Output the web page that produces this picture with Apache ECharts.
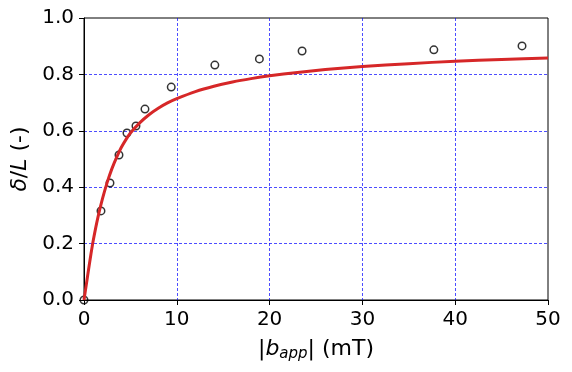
<!DOCTYPE html>
<html>
<head>
<meta charset="utf-8">
<script src="https://cdn.jsdelivr.net/npm/echarts@6/dist/echarts.min.js"></script>
<style>
html,body{margin:0;padding:0;background:#fff;}
#chart{width:572px;height:372px;}
</style>
</head>
<body>
<div id="chart"></div>
<script>
// measured points
const pointX = [0, 1.83, 2.8, 3.77, 4.63, 5.6, 6.57, 9.4, 14.1, 18.9, 23.5, 37.7, 47.2];
const pointY = [0, 0.316, 0.415, 0.514, 0.592, 0.617, 0.677, 0.755, 0.833, 0.855, 0.883, 0.887, 0.901];
// fitted curve
const curveX = [0, 0.25, 0.5, 0.75, 1, 1.5, 2, 2.5, 3, 3.5, 4, 4.5, 5, 6, 7, 8, 9, 10, 12, 14, 16, 18, 20, 23, 26, 30, 35, 40, 45, 50];
const curveY = [0, 0.055, 0.11, 0.163, 0.212, 0.293, 0.36, 0.417, 0.465, 0.505, 0.54, 0.568, 0.592, 0.628, 0.657, 0.68, 0.699, 0.714, 0.739, 0.758, 0.773, 0.785, 0.795, 0.807, 0.817, 0.828, 0.838, 0.847, 0.853, 0.858];
const xTicks = [0, 10, 20, 30, 40, 50];
const yTicks = [0.0, 0.2, 0.4, 0.6, 0.8, 1.0];

const FONT = 'DejaVu Sans';
const chart = echarts.init(document.getElementById('chart'), null, {renderer: 'canvas'});
const gridStyle = {show: true, showMinLine: false, showMaxLine: false, lineStyle: {color: '#0000ff', width: 0.7, type: [3, 2]}};
chart.setOption({
  animation: false,
  backgroundColor: '#fff',
  grid: {left: 84, right: 24, top: 18, bottom: 72, show: true, borderColor: '#000', borderWidth: 1, backgroundColor: 'transparent'},
  xAxis: {
    type: 'value', min: xTicks[0], max: xTicks[xTicks.length - 1], interval: 10,
    axisLine: {show: true, lineStyle: {color: '#000', width: 1}},
    axisTick: {show: true, length: 5, lineStyle: {color: '#000'}},
    axisLabel: {color: '#000', fontFamily: FONT, fontSize: 20, margin: 10},
    splitLine: gridStyle,
    name: '{t||}{i|b}{s|app}{t|| (mT)}',
    nameLocation: 'middle', nameGap: 36,
    nameTextStyle: {
      color: '#000', fontFamily: FONT, fontSize: 22,
      rich: {
        t: {fontFamily: FONT, fontSize: 22, color: '#000'},
        i: {fontFamily: FONT, fontSize: 22, fontStyle: 'italic', color: '#000'},
        s: {fontFamily: FONT, fontSize: 15, fontStyle: 'italic', color: '#000', padding: [11, 0, 0, 0]}
      }
    }
  },
  yAxis: {
    type: 'value', min: yTicks[0], max: yTicks[yTicks.length - 1], interval: 0.2,
    axisLine: {show: true, lineStyle: {color: '#000', width: 1}},
    axisTick: {show: true, length: 5, lineStyle: {color: '#000'}},
    axisLabel: {color: '#000', fontFamily: FONT, fontSize: 20, margin: 10, formatter: v => v.toFixed(1)},
    splitLine: gridStyle,
    name: '{i|δ}{t|/}{i|L}{t| (-)}',
    nameLocation: 'middle', nameGap: 48,
    nameTextStyle: {
      color: '#000', fontFamily: FONT, fontSize: 22,
      rich: {
        t: {fontFamily: FONT, fontSize: 22, color: '#000'},
        i: {fontFamily: FONT, fontSize: 22, fontStyle: 'italic', color: '#000'}
      }
    }
  },
  series: [
    {
      type: 'scatter', z: 2,
      data: pointX.map((x, i) => [x, pointY[i]]),
      symbol: 'circle', symbolSize: 7.5,
      itemStyle: {color: 'rgba(255,255,255,0)', borderColor: '#000', borderWidth: 1.5}
    },
    {
      type: 'line', z: 3,
      data: curveX.map((x, i) => [x, curveY[i]]),
      showSymbol: false, smooth: 0.2,
      lineStyle: {color: '#d62728', width: 3}
    }
  ]
});
</script>
</body>
</html>
